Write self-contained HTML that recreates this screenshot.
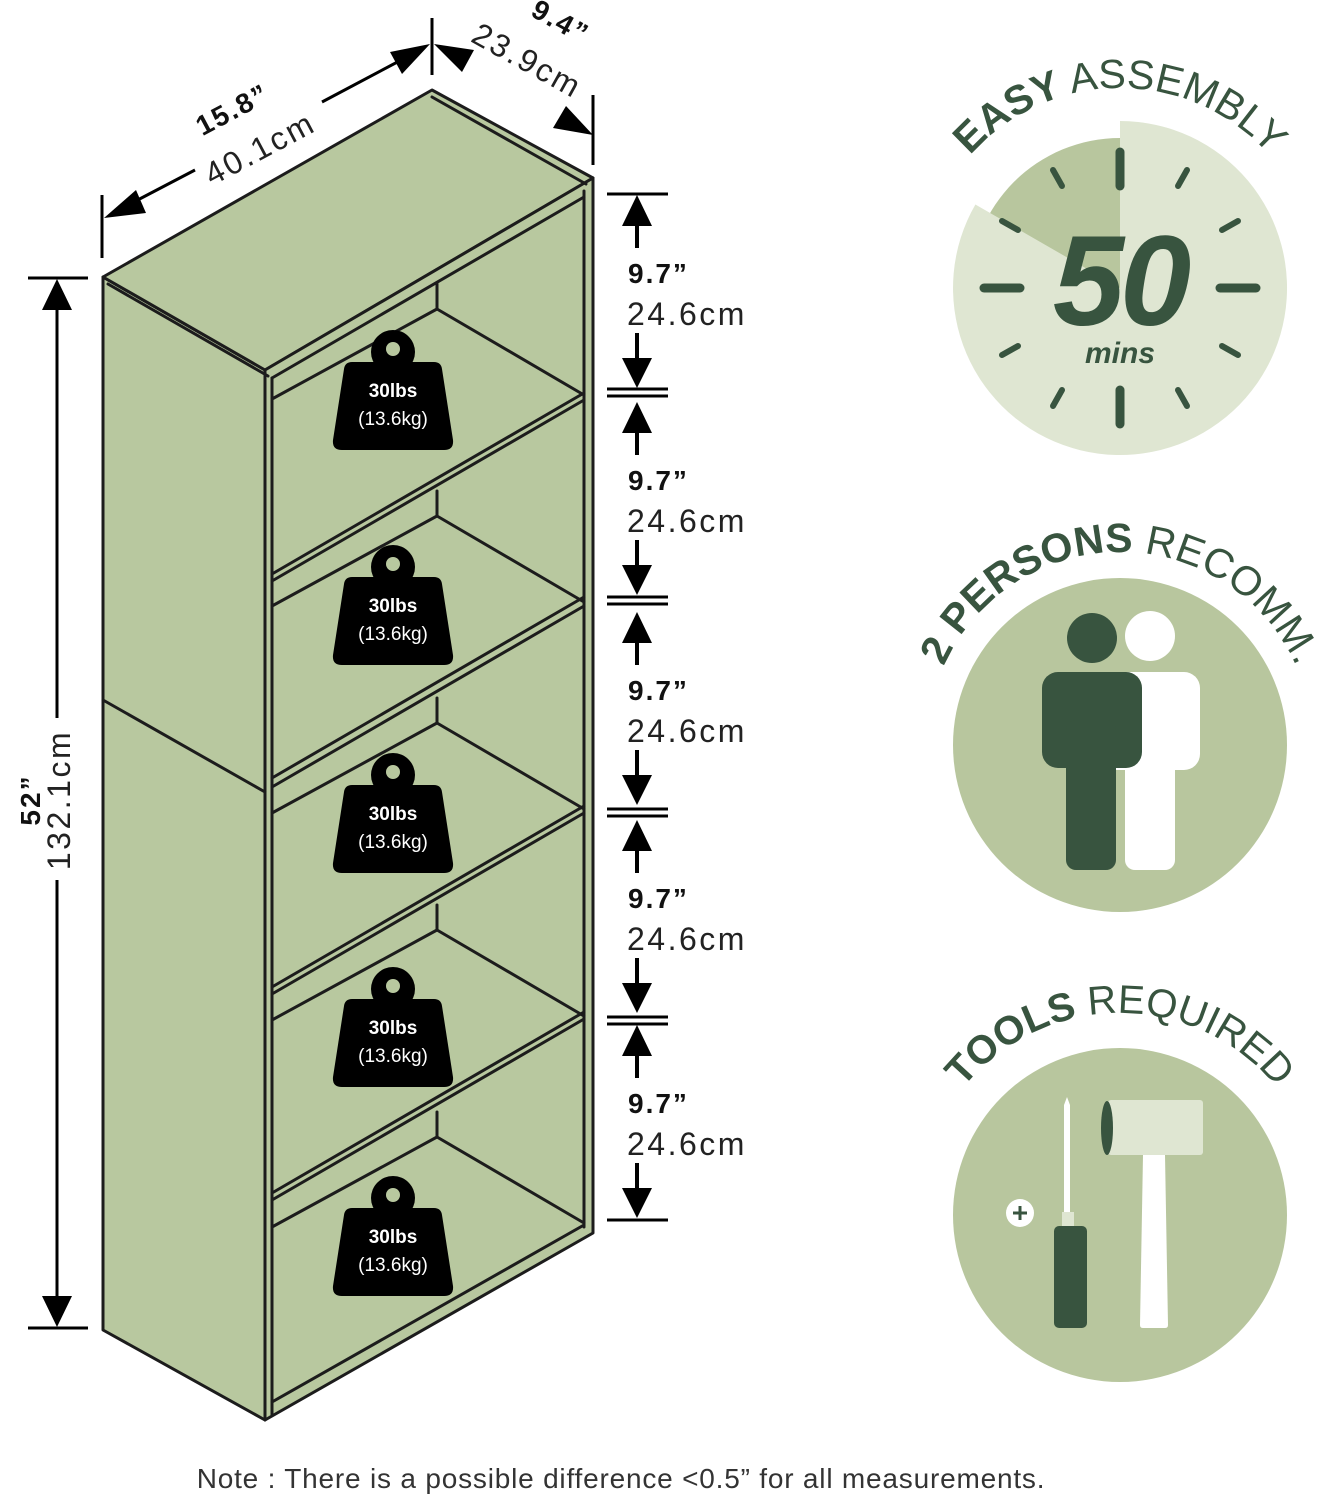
<!DOCTYPE html>
<html><head><meta charset="utf-8"><style>
html,body{margin:0;padding:0;background:#fff;}
svg{display:block;}
text{font-family:"Liberation Sans","DejaVu Sans",sans-serif;}
</style></head><body>
<svg width="1317" height="1500" viewBox="0 0 1317 1500" xmlns="http://www.w3.org/2000/svg">
<!-- Bookcase -->
<g stroke="#1c1c1c" stroke-width="3" stroke-linejoin="round" fill="#b8c89f">
<polygon points="103,277 265,370 265,1420 103,1330"/>
<polygon points="103,277 432,90 593,178 265,370"/>
<polygon points="265,370 593,178 593,1233 265,1420"/>
</g>
<g stroke="#1c1c1c" stroke-width="3" fill="none" stroke-linecap="round">
<line x1="108" y1="284" x2="268" y2="376"/>
<line x1="432" y1="97" x2="586" y2="184"/>
<line x1="272" y1="378" x2="272" y2="1415"/>
<line x1="584" y1="191" x2="584" y2="1227"/>
<line x1="272" y1="378" x2="584" y2="197"/>
<line x1="103" y1="700" x2="265" y2="792"/>
<line x1="272" y1="1402" x2="584" y2="1225"/>
<line x1="272" y1="574" x2="584" y2="393"/><line x1="272" y1="581" x2="584" y2="400"/>
<line x1="272" y1="778" x2="584" y2="597"/><line x1="272" y1="787" x2="584" y2="606"/>
<line x1="272" y1="987" x2="584" y2="806"/><line x1="272" y1="994" x2="584" y2="813"/>
<line x1="272" y1="1193" x2="584" y2="1012"/><line x1="272" y1="1200" x2="584" y2="1019"/>
<g id="bk">
<line x1="437" y1="284" x2="437" y2="309"/><line x1="437" y1="309" x2="272" y2="399"/><line x1="437" y1="309" x2="584" y2="395"/>
</g>
<use href="#bk" transform="translate(0,207)"/>
<use href="#bk" transform="translate(0,414)"/>
<use href="#bk" transform="translate(0,621)"/>
<use href="#bk" transform="translate(0,828)"/>
</g>
<!-- weights -->
<g id="wt">
<circle cx="393" cy="352" r="22" fill="#000"/>
<circle cx="393" cy="349" r="7" fill="#b8c89f"/>
<path d="M352,362 L434,362 Q441,362 442,369 L453,440 Q454,450 444,450 L342,450 Q332,450 333,440 L344,369 Q345,362 352,362 Z" fill="#000"/>
<text x="393" y="397" font-size="19" font-weight="bold" fill="#fff" text-anchor="middle">30lbs</text>
<text x="393" y="425" font-size="19" fill="#fff" text-anchor="middle">(13.6kg)</text>
</g>
<use href="#wt" transform="translate(0,215)"/>
<use href="#wt" transform="translate(0,423)"/>
<use href="#wt" transform="translate(0,637)"/>
<use href="#wt" transform="translate(0,846)"/>
<!-- right dimensions -->
<g stroke="#000" stroke-width="3">
<line x1="607" y1="194" x2="668" y2="194"/>
<line x1="607" y1="389" x2="668" y2="389"/><line x1="607" y1="396" x2="668" y2="396"/>
<line x1="607" y1="597" x2="668" y2="597"/><line x1="607" y1="604" x2="668" y2="604"/>
<line x1="607" y1="809" x2="668" y2="809"/><line x1="607" y1="816" x2="668" y2="816"/>
<line x1="607" y1="1017" x2="668" y2="1017"/><line x1="607" y1="1024" x2="668" y2="1024"/>
<line x1="607" y1="1220" x2="668" y2="1220"/>
</g>
<g id="seg">
<line x1="637" y1="248" x2="637" y2="226" stroke="#000" stroke-width="4"/>
<path d="M622,226 L652,226 L637,195 Z" fill="#000"/>
<line x1="637" y1="333" x2="637" y2="358" stroke="#000" stroke-width="4"/>
<path d="M622,358 L652,358 L637,388 Z" fill="#000"/>
<text x="628" y="283" font-size="28" font-weight="bold" fill="#111" letter-spacing="2">9.7”</text>
<text x="627" y="325" font-size="32" fill="#222" letter-spacing="2.5">24.6cm</text>
</g>
<use href="#seg" transform="translate(0,207)"/>
<use href="#seg" transform="translate(0,417)"/>
<use href="#seg" transform="translate(0,625)"/>
<use href="#seg" transform="translate(0,830)"/>
<!-- left dimension -->
<g stroke="#000" stroke-width="3">
<line x1="28" y1="278" x2="88" y2="278"/><line x1="28" y1="1328" x2="88" y2="1328"/>
<line x1="57" y1="305" x2="57" y2="718"/><line x1="57" y1="880" x2="57" y2="1300"/>
</g>
<path d="M42,310 L72,310 L57,279 Z" fill="#000"/>
<path d="M42,1296 L72,1296 L57,1327 Z" fill="#000"/>
<text transform="translate(40,800) rotate(-90)" font-size="28" font-weight="bold" text-anchor="middle" fill="#111" letter-spacing="2">52”</text>
<text transform="translate(70,800) rotate(-90)" font-size="32" text-anchor="middle" fill="#222" letter-spacing="2.5">132.1cm</text>
<!-- top dimensions -->
<g stroke="#000" stroke-width="3">
<line x1="102" y1="195" x2="102" y2="258"/>
<line x1="432" y1="18" x2="432" y2="75"/>
<line x1="593" y1="95" x2="593" y2="165"/>
<line x1="130" y1="204" x2="195" y2="170"/>
<line x1="322" y1="102" x2="405" y2="58"/>
</g>
<path d="M104,218 L136,190 L146,213 Z" fill="#000"/>
<path d="M430,44 L390,52 L402,74 Z" fill="#000"/>
<path d="M434,44 L474,50 L462,72 Z" fill="#000"/>
<path d="M593,135 L553,128 L566,106 Z" fill="#000"/>
<text transform="translate(237,118) rotate(-28)" font-size="28" font-weight="bold" text-anchor="middle" fill="#111" letter-spacing="2">15.8”</text>
<text transform="translate(265,158) rotate(-28)" font-size="32" text-anchor="middle" fill="#222" letter-spacing="2.5">40.1cm</text>
<text transform="translate(556,30) rotate(29)" font-size="28" font-weight="bold" text-anchor="middle" fill="#111" letter-spacing="2">9.4”</text>
<text transform="translate(522,70) rotate(29)" font-size="32" text-anchor="middle" fill="#222" letter-spacing="2.5">23.9cm</text>
<!-- clock -->
<circle cx="1120" cy="288" r="150" fill="#b8c69e"/>
<path d="M1120,288 L1120,121 A167,167 0 1 1 975.4,204.5 Z" fill="#dfe6d2"/>
<g stroke="#38543f" stroke-linecap="round">
<line x1="1120" y1="152" x2="1120" y2="186" stroke-width="9"/>
<line x1="1120" y1="390" x2="1120" y2="424" stroke-width="9"/>
<line x1="984" y1="288" x2="1020" y2="288" stroke-width="9"/>
<line x1="1220" y1="288" x2="1256" y2="288" stroke-width="9"/>
<g stroke-width="6">
<line x1="1187" y1="170" x2="1178" y2="186"/><line x1="1238" y1="221" x2="1222" y2="230"/>
<line x1="1238" y1="355" x2="1222" y2="346"/><line x1="1187" y1="406" x2="1178" y2="390"/>
<line x1="1053" y1="406" x2="1062" y2="390"/><line x1="1002" y1="355" x2="1018" y2="346"/>
<line x1="1002" y1="221" x2="1018" y2="230"/><line x1="1053" y1="170" x2="1062" y2="186"/>
</g></g>
<text x="1120" y="325" font-size="128" font-weight="bold" font-style="italic" text-anchor="middle" fill="#38543f" letter-spacing="-4">50</text>
<text x="1120" y="363" font-size="30" font-weight="bold" font-style="italic" text-anchor="middle" fill="#38543f">mins</text>
<path id="a1" d="M920,288 A200,200 0 0 1 1320,288" fill="none"/>
<text font-size="41" fill="#38543f"><textPath href="#a1" startOffset="50%" text-anchor="middle"><tspan font-weight="bold">EASY</tspan> ASSEMBLY</textPath></text>
<!-- persons -->
<circle cx="1120" cy="745" r="167" fill="#b8c69e"/>
<circle cx="1150" cy="636" r="25" fill="#fff"/>
<rect x="1100" y="672" width="100" height="98" rx="16" fill="#fff"/>
<rect x="1125" y="720" width="50" height="150" rx="10" fill="#fff"/>
<circle cx="1092" cy="638" r="25" fill="#38543f"/>
<rect x="1042" y="672" width="100" height="96" rx="16" fill="#38543f"/>
<rect x="1066" y="720" width="50" height="150" rx="10" fill="#38543f"/>
<path id="a2" d="M927,745 A193,193 0 0 1 1313,745" fill="none"/>
<text font-size="41" fill="#38543f"><textPath href="#a2" startOffset="50%" text-anchor="middle"><tspan font-weight="bold">2 PERSONS</tspan> RECOMM.</textPath></text>
<!-- tools -->
<circle cx="1120" cy="1215" r="167" fill="#b8c69e"/>
<path d="M1064,1212 L1064,1105 L1067,1097 L1070,1105 L1070,1212 Z" fill="#fff"/>
<rect x="1062" y="1212" width="12" height="16" fill="#dfe6d2"/>
<rect x="1054" y="1226" width="33" height="102" rx="5" fill="#38543f"/>
<circle cx="1020" cy="1213" r="14" fill="#fff"/>
<path d="M1013,1213 H1027 M1020,1206 V1220" stroke="#38543f" stroke-width="3"/>
<path d="M1143,1155 L1165,1155 L1168,1325 Q1168,1328 1165,1328 L1143,1328 Q1140,1328 1140,1325 Z" fill="#fff"/>
<rect x="1108" y="1100" width="95" height="55" rx="3" fill="#dfe6d2"/>
<ellipse cx="1107" cy="1128" rx="6" ry="27" fill="#38543f"/>
<path id="a3" d="M918,1215 A202,202 0 0 1 1322,1215" fill="none"/>
<text font-size="40" fill="#38543f"><textPath href="#a3" startOffset="50%" text-anchor="middle"><tspan font-weight="bold">TOOLS</tspan> REQUIRED</textPath></text>
<!-- note -->
<text x="621" y="1488" font-size="28" text-anchor="middle" fill="#333" letter-spacing="0.8">Note : There is a possible difference &lt;0.5” for all measurements.</text>
</svg>
</body></html>
